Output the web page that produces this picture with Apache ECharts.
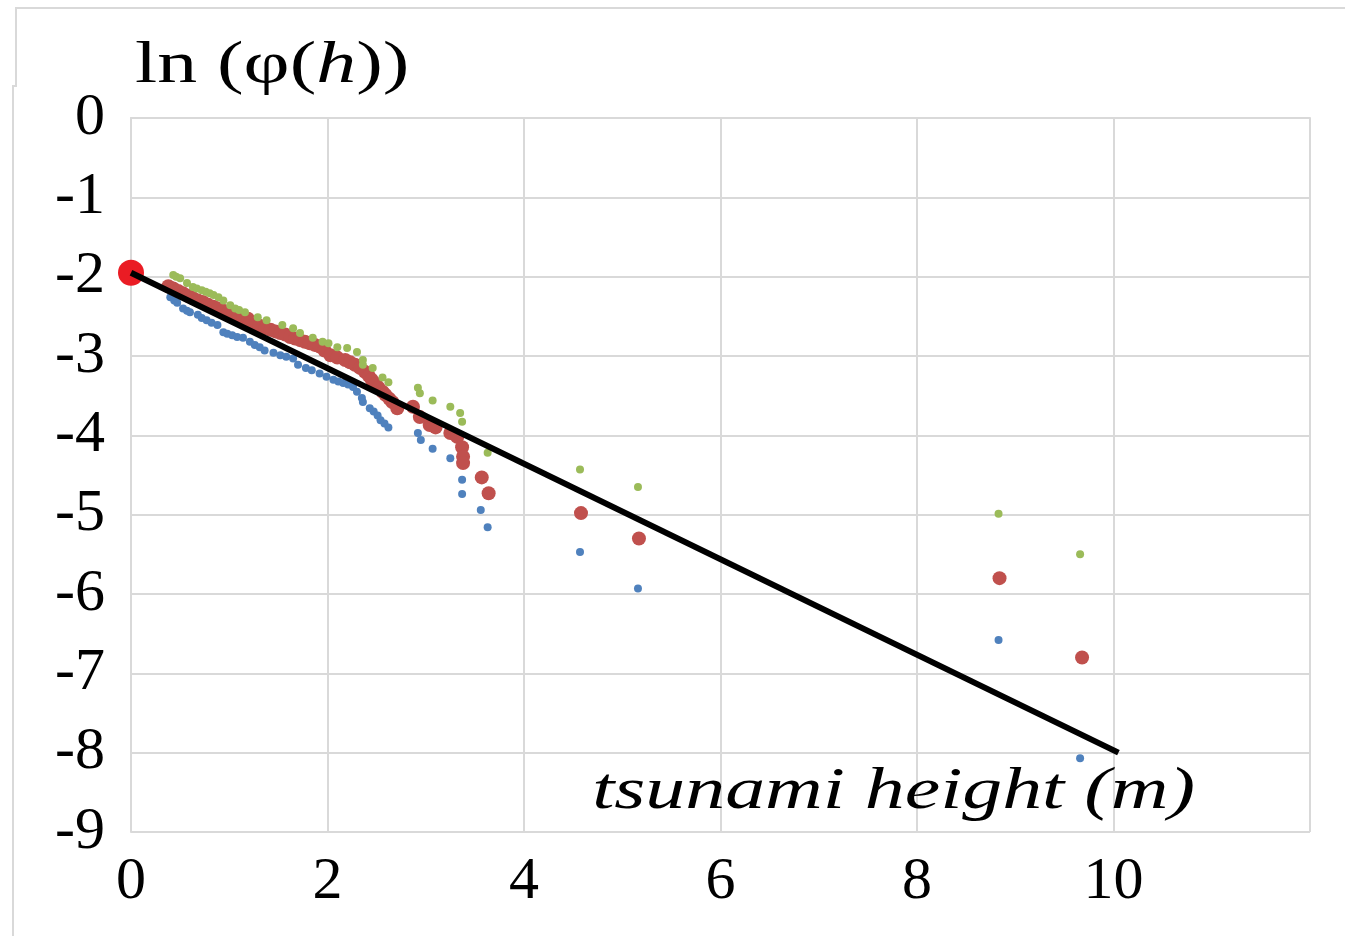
<!DOCTYPE html>
<html>
<head>
<meta charset="utf-8">
<script src="https://cdn.jsdelivr.net/npm/echarts@6/dist/echarts.min.js"></script>
<style>
  html, body { margin: 0; padding: 0; background: #fff; }
  #chartBox { width: 1352px; height: 936px; }
</style>
</head>
<body>
<div id="chartBox"></div>
<script>
// ln(phi(h)) vs tsunami height, three point sets + fitted line
const bluePts = [
  [0.40, -2.26], [0.44, -2.30], [0.47, -2.33], [0.53, -2.40], [0.57, -2.43], [0.60, -2.45],
  [0.68, -2.48], [0.72, -2.52], [0.77, -2.55], [0.82, -2.58], [0.88, -2.61], [0.94, -2.70],
  [0.98, -2.72], [1.03, -2.74], [1.08, -2.76], [1.14, -2.77], [1.21, -2.82], [1.26, -2.86],
  [1.31, -2.89], [1.36, -2.93], [1.45, -2.96], [1.52, -2.99], [1.58, -3.01], [1.65, -3.03],
  [1.70, -3.11], [1.78, -3.15], [1.84, -3.18], [1.92, -3.22], [1.99, -3.26], [2.06, -3.30],
  [2.11, -3.32], [2.16, -3.34], [2.21, -3.36], [2.26, -3.39], [2.30, -3.45], [2.35, -3.53],
  [2.36, -3.58], [2.43, -3.66], [2.47, -3.70], [2.51, -3.75], [2.54, -3.81], [2.58, -3.85],
  [2.62, -3.90], [2.92, -3.97], [2.95, -4.06], [3.07, -4.17], [3.25, -4.29], [3.37, -4.56],
  [3.37, -4.74], [3.56, -4.94], [3.63, -5.16], [4.57, -5.47], [5.16, -5.93], [8.83, -6.58],
  [9.66, -8.07]
];
const redPts = [
  [0.38, -2.12], [0.43, -2.15], [0.48, -2.18], [0.53, -2.21], [0.58, -2.24], [0.63, -2.27],
  [0.68, -2.30], [0.73, -2.32], [0.78, -2.35], [0.84, -2.38], [0.89, -2.40], [0.94, -2.43],
  [0.99, -2.45], [1.04, -2.48], [1.09, -2.50], [1.14, -2.52], [1.19, -2.53], [1.21, -2.57],
  [1.26, -2.60], [1.31, -2.62], [1.37, -2.65], [1.42, -2.67], [1.47, -2.69], [1.52, -2.71],
  [1.57, -2.73], [1.62, -2.76], [1.67, -2.78], [1.72, -2.80], [1.77, -2.82], [1.82, -2.84],
  [1.87, -2.86], [1.92, -2.88], [1.97, -2.93], [2.03, -2.99], [2.10, -3.02], [2.18, -3.05],
  [2.23, -3.08], [2.28, -3.11], [2.33, -3.15], [2.38, -3.20], [2.42, -3.25], [2.45, -3.30],
  [2.49, -3.35], [2.52, -3.40], [2.56, -3.45], [2.59, -3.49], [2.63, -3.54], [2.66, -3.58],
  [2.71, -3.66], [2.87, -3.64], [2.94, -3.77], [3.04, -3.87], [3.10, -3.90], [3.25, -3.97],
  [3.32, -4.02], [3.37, -4.15], [3.38, -4.27], [3.38, -4.35], [3.57, -4.53], [3.64, -4.73],
  [4.58, -4.98], [5.17, -5.30], [8.84, -5.80], [9.68, -6.80]
];
const greenPts = [
  [0.43, -1.98], [0.46, -2.00], [0.50, -2.02], [0.57, -2.08], [0.63, -2.13], [0.67, -2.15],
  [0.72, -2.17], [0.76, -2.19], [0.80, -2.21], [0.84, -2.23], [0.89, -2.26], [0.94, -2.30],
  [1.01, -2.36], [1.06, -2.40], [1.10, -2.42], [1.16, -2.45], [1.29, -2.51], [1.38, -2.55],
  [1.54, -2.61], [1.65, -2.65], [1.72, -2.71], [1.85, -2.77], [1.95, -2.82], [2.01, -2.84],
  [2.10, -2.89], [2.20, -2.90], [2.30, -2.95], [2.36, -3.05], [2.36, -3.11], [2.46, -3.15],
  [2.56, -3.27], [2.62, -3.33], [2.92, -3.40], [2.94, -3.47], [3.07, -3.56], [3.25, -3.64],
  [3.35, -3.72], [3.37, -3.83], [3.63, -4.22], [4.57, -4.43], [5.16, -4.65], [8.83, -4.99],
  [9.66, -5.50]
];
const fitLine = [[0, -1.95], [10.05, -8.0]];
const startPt = [[0, -1.95]];

const xTicks = [0, 2, 4, 6, 8, 10];
const xName = "tsunami height (m)";

const serif = "'Liberation Serif', 'Times New Roman', serif";

const chartFun = () => {
  const chartDom = document.getElementById("chartBox");
  const myChart = echarts.init(chartDom);
  const option = {
    animation: false,
    backgroundColor: "#fff",
    grid: { left: 131, top: 118, right: 42, bottom: 104 },
    graphic: [
      {
        type: "polyline",
        shape: { points: [[13, 936], [13, 86], [16, 86], [16, 8], [1345, 8]] },
        style: { stroke: "#d9d9d9", lineWidth: 2, fill: null },
      },
      {
        // y axis title
        type: "text",
        x: 135,
        y: 66,
        scaleX: 1.33,
        z: 10,
        style: {
          text: "{n|ln (φ(}{h|h}{n|))}",
          align: "left",
          verticalAlign: "middle",
          rich: {
            n: { fontFamily: serif, fontSize: 60, fill: "#000" },
            h: { fontFamily: serif, fontSize: 60, fontStyle: "italic", fill: "#000" },
          },
        },
      },
      {
        // x axis title, sits inside the plot
        type: "text",
        x: 1195,
        y: 792,
        scaleX: 1.33,
        z: 10,
        style: {
          text: xName,
          align: "right",
          verticalAlign: "middle",
          fontFamily: serif,
          fontStyle: "italic",
          fontSize: 60,
          fill: "#000",
        },
      },
    ],
    xAxis: {
      type: "value",
      min: 0,
      max: 12,
      interval: 2,
      axisLine: { lineStyle: { color: "#d9d9d9", width: 2 } },
      axisTick: { show: false },
      splitLine: { lineStyle: { color: "#d9d9d9", width: 2 } },
      axisLabel: {
        fontFamily: serif,
        fontSize: 60,
        color: "#000",
        margin: 20,
        formatter: (v) => (xTicks.includes(v) ? String(v) : ""),
      },
    },
    yAxis: {
      type: "value",
      min: -9,
      max: 0,
      interval: 1,
      axisLine: { show: true, lineStyle: { color: "#d9d9d9", width: 2 } },
      axisTick: { show: false },
      splitLine: { lineStyle: { color: "#d9d9d9", width: 2 } },
      axisLabel: {
        fontFamily: serif,
        fontSize: 60,
        color: "#000",
        margin: 26,
      },
    },
    series: [
      {
        type: "scatter",
        data: bluePts,
        symbolSize: 8,
        itemStyle: { color: "#4f81bd", opacity: 1 },
      },
      {
        type: "scatter",
        data: redPts,
        symbolSize: 14,
        itemStyle: { color: "#c0504d", opacity: 1 },
      },
      {
        type: "scatter",
        data: greenPts,
        symbolSize: 8,
        itemStyle: { color: "#9bbb59", opacity: 1 },
      },
      {
        type: "line",
        data: fitLine,
        symbol: "none",
        lineStyle: { color: "#000", width: 6 },
      },
      {
        type: "scatter",
        data: startPt,
        symbolSize: 26,
        clip: false,
        itemStyle: { color: "#ea1c24", opacity: 1 },
      },
    ],
  };
  myChart.setOption(option);
};

chartFun();
</script>
</body>
</html>
